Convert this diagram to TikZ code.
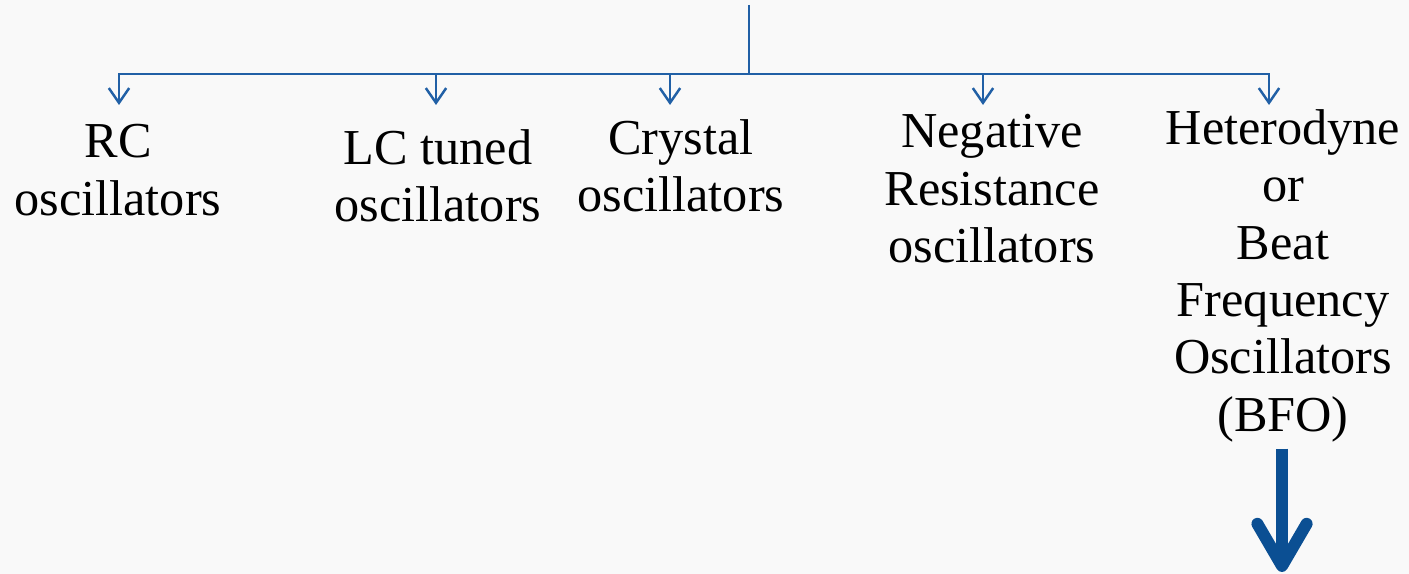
\documentclass[tikz,border=0pt]{standalone}
\usepackage{fontspec}
\setmainfont{Liberation Serif}
\usetikzlibrary{arrows.meta}
\definecolor{bluex}{HTML}{2160A6}
\definecolor{deepx}{HTML}{0B4F93}
\definecolor{softbg}{HTML}{F9F9F9}
\tikzset{
  ln/.style={bluex,line width=0.7pt},
  ar/.style={ln,-{Straight Barb[length=4.2pt,width=5.8pt]}},
  big/.style={deepx,line width=3.4pt,-{Straight Barb[length=12pt,width=14pt,round]}},
  lbl/.style={align=center,inner sep=0pt,anchor=north,font=\fontsize{14.3pt}{16.3pt}\selectfont}
}
\begin{document}
\begin{tikzpicture}[x=0.01cm,y=-0.01cm]
\fill[softbg] (0,0) rectangle (1409,574);
\useasboundingbox (0,0) rectangle (1409,574);
\coordinate (top) at (749,5);
\coordinate (bus) at (749,74);
\coordinate (t1) at (119,105);
\coordinate (t2) at (436,105);
\coordinate (t3) at (670,105);
\coordinate (t4) at (983,105);
\coordinate (t5) at (1269,105);
\node[lbl] (rc) at (118,124) {RC\\oscillators};
\node[lbl] (lc) at (438,129) {LC tuned\\oscillators};
\node[lbl] (xtal) at (681,119) {Crystal\\oscillators};
\node[lbl] (negr) at (992,114) {Negative\\Resistance\\oscillators};
\node[lbl] (bfo) at (1283,109) {Heterodyne\\or\\Beat\\Frequency\\Oscillators\\(BFO)};
\coordinate (bend) at (1282,572);
\draw[ln] (top) -- (bus);
\foreach \t in {t1,t2,t3,t4,t5}
  \draw[ar] (bus) -| (\t);
\draw[big,shorten <=0.06cm] (bfo.south -| bend) -- (bend);
\end{tikzpicture}
\end{document}
